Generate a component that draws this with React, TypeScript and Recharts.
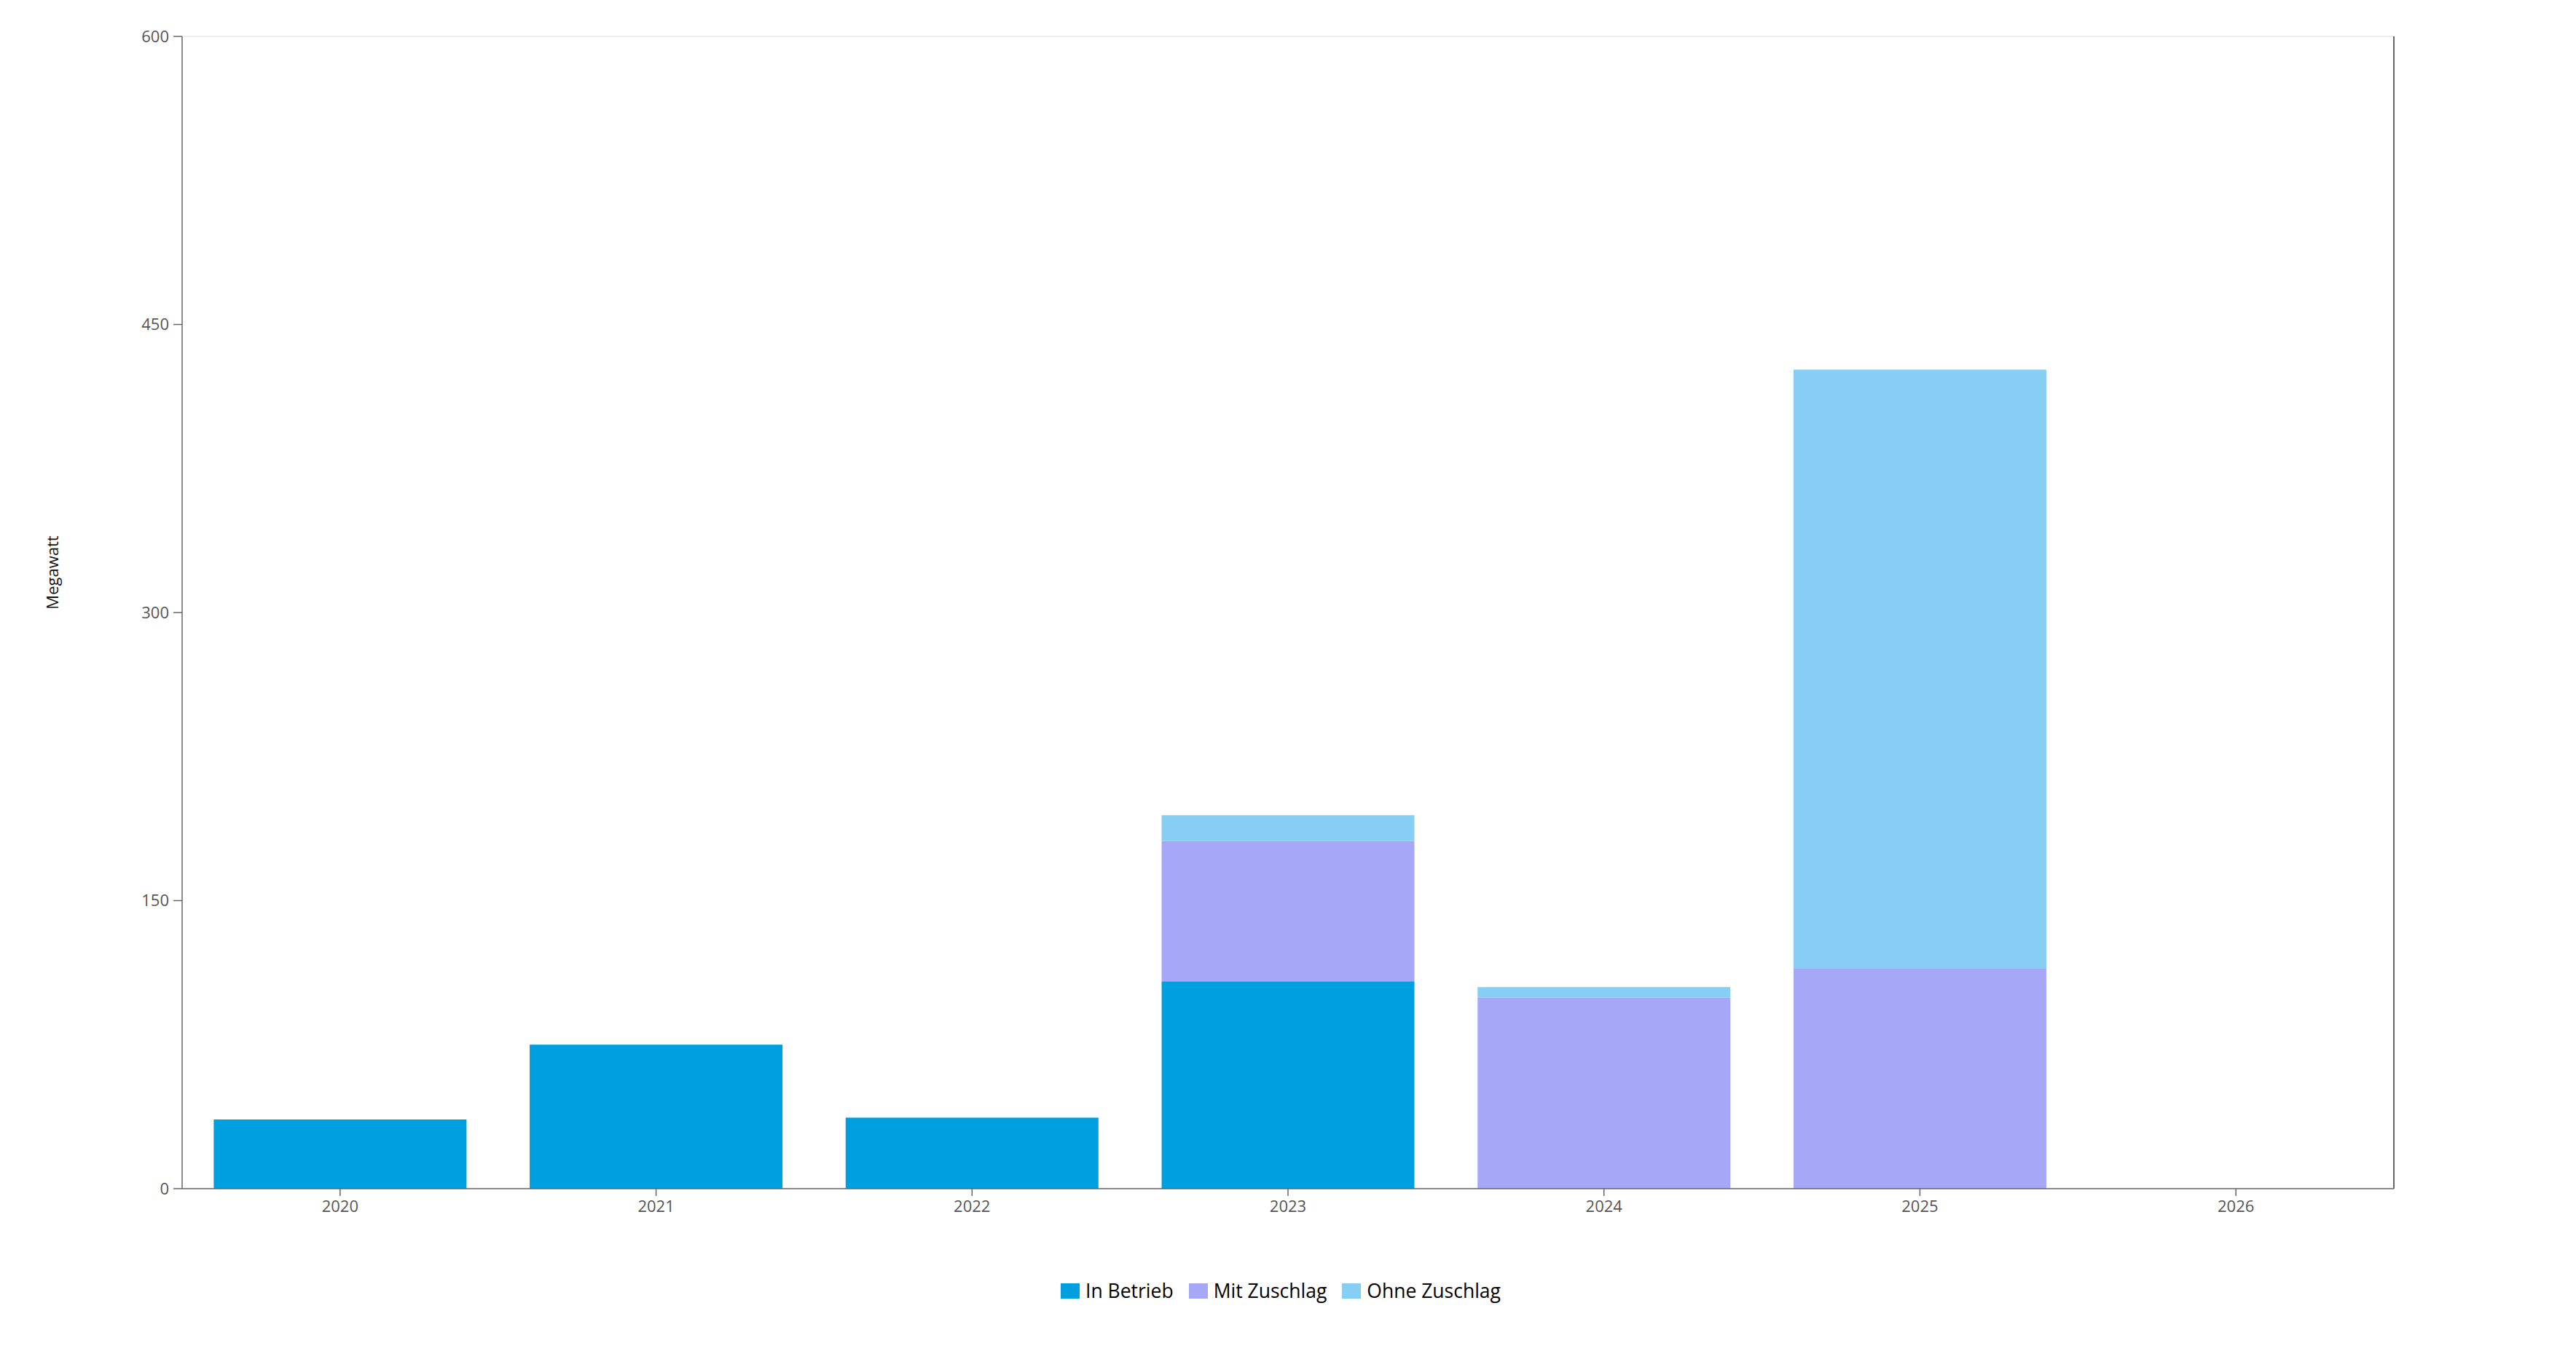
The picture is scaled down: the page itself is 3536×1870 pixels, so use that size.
import { BarChart, Bar, XAxis, YAxis, Legend, ReferenceLine } from 'recharts';

// Installed capacity per year (Megawatt)
const years = ['2020', '2021', '2022', '2023', '2024', '2025', '2026'];
const inBetrieb = [36, 75, 37, 108, 0, 0, 0];
const mitZuschlag = [0, 0, 0, 73, 99.5, 114.5, 0];
const ohneZuschlag = [0, 0, 0, 13.5, 5.5, 312, 0];
const yTicks = [0, 150, 300, 450, 600];

const seriesKeys = ['inBetrieb', 'mitZuschlag', 'ohneZuschlag'];
const seriesNames = ['In Betrieb', 'Mit Zuschlag', 'Ohne Zuschlag'];
const seriesColors = ['#009FE0', '#A6A7F6', '#87CEF5'];

const FONT = "'Segoe UI', 'Open Sans', sans-serif";

const chartData = years.map((year, i) => ({
  year,
  inBetrieb: inBetrieb[i],
  mitZuschlag: mitZuschlag[i],
  ohneZuschlag: ohneZuschlag[i],
}));

function LegendContent() {
  return (
    <div
      style={{
        display: 'flex',
        justifyContent: 'center',
        alignItems: 'center',
        height: 40,
        fontFamily: FONT,
        fontSize: 26.5,
        color: '#000',
      }}
    >
      {seriesNames.map((name, i) => (
        <div key={name} style={{ display: 'flex', alignItems: 'center', marginRight: i < seriesNames.length - 1 ? 21 : 0 }}>
          <span style={{ display: 'inline-block', width: 26, height: 21, background: seriesColors[i], marginRight: 8 }} />
          <span>{name}</span>
        </div>
      ))}
    </div>
  );
}

function AxisTitle({ viewBox }: any) {
  const cx = viewBox.x + 63;
  const cy = viewBox.y + viewBox.height / 2 - 55;
  return (
    <text
      x={cx}
      y={cy}
      transform={`rotate(-90, ${cx}, ${cy})`}
      textAnchor="middle"
      dominantBaseline="central"
      fontFamily={FONT}
      fontSize={22}
      fill="#111"
    >
      Megawatt
    </text>
  );
}

export default function App() {
  return (
    <BarChart
      width={3520}
      height={1850}
      data={chartData}
      margin={{ top: 42, right: 241, left: 0, bottom: 126 }}
      barCategoryGap="10%"
    >
      <ReferenceLine y={600} yAxisId="left" stroke="#efefef" strokeWidth={2} />
      <XAxis
        dataKey="year"
        height={60}
        tickSize={10}
        tickMargin={6}
        axisLine={{ stroke: '#666', strokeWidth: 1.5 }}
        tickLine={{ stroke: '#666', strokeWidth: 1.5 }}
        tick={{ fill: '#555', fontSize: 22, fontFamily: FONT }}
      />
      <YAxis
        yAxisId="left"
        width={242}
        domain={[0, 600]}
        ticks={yTicks}
        tickSize={12}
        tickMargin={6}
        axisLine={{ stroke: '#666', strokeWidth: 1.5 }}
        tickLine={{ stroke: '#666', strokeWidth: 1.5 }}
        tick={{ fill: '#555', fontSize: 22, fontFamily: FONT }}
        label={{ content: AxisTitle }}
      />
      <YAxis
        yAxisId="right"
        orientation="right"
        width={1}
        domain={[0, 600]}
        tick={false}
        tickLine={false}
        axisLine={{ stroke: '#666', strokeWidth: 2 }}
      />
      {seriesKeys.map((key, i) => (
        <Bar
          key={key}
          dataKey={key}
          name={seriesNames[i]}
          stackId="mw"
          yAxisId="left"
          fill={seriesColors[i]}
          isAnimationActive={false}
        />
      ))}
      <Legend
        verticalAlign="bottom"
        content={<LegendContent />}
        wrapperStyle={{ top: 1744, bottom: 'auto', left: -10, width: 3520, height: 40 }}
      />
    </BarChart>
  );
}
